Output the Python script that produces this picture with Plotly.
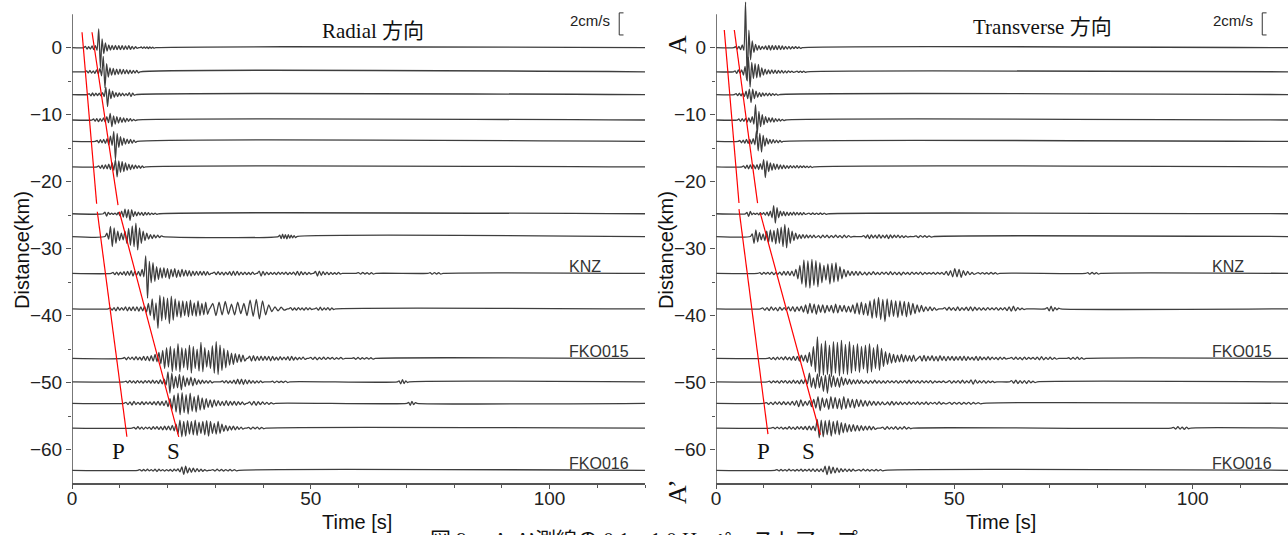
import plotly.graph_objects as go

# ---------------------------------------------------------------- data
T_END = 120.0
DISTANCES = [0.0, -3.6, -7.0, -10.8, -14.0, -17.8, -24.8, -28.2,
             -33.7, -39.0, -46.4, -49.9, -53.1, -56.8, -63.1]
STATION_NAMES = {8: "KNZ", 10: "FKO015", 14: "FKO016"}
STATION_LABEL_T = 104.0

# Each waveform is a list of wavelets: (start time [s], half period [s],
# successive peak amplitudes in km-offset units).  Quiet stretches are flat.
R00 = [(2.8, 0.35, [0.2, -0.2, 0.15, -0.2, 0.25, -0.3, 0.3, -0.4, 2.8, -3.0, 1.3, -0.9, 0.7, -0.5, 0.4, -0.35,
                    0.35, -0.3, 0.35, -0.3, 0.3, -0.3, 0.3, -0.3, 0.25, -0.25, 0.3, -0.25, 0.2, -0.2, 0.15, -0.1]),
       (14.5, 0.3, [0.1, -0.1, 0.12, -0.1, 0.1, -0.12, 0.1, -0.1, 0.08, -0.08])]
R01 = [(3.05, 0.35, [0.15, -0.15, 0.2, -0.2, 0.15, -0.25, 0.3, -0.3, 0.5, -0.6, 2.3, -2.4, 1.2, -0.8, 0.6, -0.5,
                     0.5, -0.45, 0.4, -0.4, 0.4, -0.35, 0.35, -0.3, 0.3, -0.3, 0.25, -0.25, 0.2, -0.2, 0.2, -0.15])]
R02 = [(3.6, 0.35, [0.15, -0.2, 0.25, -0.2, 0.2, -0.15, 0.2, -0.2, 0.3, -0.3, 1.1, -1.8, 0.8, -0.6, 0.5, -0.4,
                    0.3, -0.3, 0.25, -0.2, 0.2, -0.2, 0.15, -0.15, 0.3, -0.3, 0.2, -0.1])]
R03 = [(4.5, 0.35, [0.15, -0.15, 0.2, -0.25, 0.2, -0.2, 0.3, -0.3, 0.5, -0.4, 1.0, -1.0, 0.6, -0.6, 0.5, -0.45,
                    0.4, -0.35, 0.3, -0.3, 0.25, -0.2, 0.2, -0.15, 0.1, -0.1])]
R04 = [(5.25, 0.35, [0.15, -0.2, 0.25, -0.2, 0.3, -0.3, 0.4, -0.5, 0.8, -0.6, 1.5, -2.7, 1.2, -0.9, 0.7, -0.6,
                     0.5, -0.4, 0.35, -0.3, 0.3, -0.25, 0.2, -0.15])]
R05 = [(5.6, 0.35, [0.15, -0.2, 0.25, -0.3, 0.3, -0.3, 0.4, -0.4, 0.6, -0.5, 1.1, -1.5, 0.9, -0.8, 0.8, -0.7,
                    0.6, -0.5, 0.4, -0.4, 0.3, -0.3, 0.25, -0.2, 0.2, -0.2, 0.15, -0.1])]
R06 = [(6.9, 0.35, [0.25, -0.35, 0.2, -0.1, 0.1, -0.1, 0.1, -0.15, 0.2, -0.3, 0.4, -0.5, 0.7, -0.6, 0.6, -1.0,
                    0.6, -0.4, 0.3, -0.3, 0.25, -0.2, 0.2, -0.25, 0.2, -0.15, 0.15, -0.15, 0.1, -0.1, 0.1, -0.1])]
R07 = [(7.3, 0.38, [0.5, -0.4, 1.5, -1.5, 1.3, -1.0, 0.8, -0.6, 0.5, -0.5, 0.8, -1.0, 1.2, -1.3, 1.6, -1.5,
                    2.0, -2.0, 1.3, -1.0, 0.8, -0.6, 0.5, -0.4, 0.3, -0.3, 0.25, -0.2, 0.2, -0.15, 0.1]),
       (43.5, 0.3, [0.2, -0.3, 0.35, -0.3, 0.3, -0.35, 0.3, -0.25, 0.2, -0.2, 0.15, -0.15])]
R08 = [(8.6, 0.38, [0.15, -0.2, 0.2, -0.25, 0.2, -0.2, 0.25, -0.3, 0.3, -0.3, 0.4, -0.4, 0.3, -0.3, 0.3, -0.4,
                    0.6, -0.5, 2.6, -3.7, 1.8, -1.4, 1.6, -1.2, 1.0, -0.9, 0.8, -0.7, 0.8, -0.6, 0.7, -0.8,
                    0.6, -0.5, 0.7, -0.6, 0.5, -0.5, 0.6, -0.4, 0.5, -0.4, 0.4, -0.4, 0.35, -0.3, 0.3, -0.3,
                    0.3, -0.25, 0.3, -0.3, 0.25, -0.2]),
       (29.8, 0.4, [0.2, -0.2, 0.25, -0.2, 0.2, -0.25, 0.2, -0.2, 0.25, -0.3, 0.35, -0.3, 0.3, -0.25, 0.2, -0.2,
                    0.2, -0.2, 0.15, -0.2, 0.2, -0.15]),
       (39.2, 0.4, [0.35, -0.4, 0.3, -0.25, 0.2, -0.2, 0.15, -0.15, 0.15, -0.2, 0.2, -0.15, 0.15, -0.15, 0.2, -0.2,
                    0.15, -0.15, 0.2, -0.25, 0.3, -0.3, 0.25, -0.2, 0.2, -0.2, 0.15, -0.1]),
       (51.0, 0.4, [0.3, -0.4, 0.35, -0.3, 0.25, -0.2, 0.2, -0.2, 0.15, -0.15, 0.1, -0.15, 0.15, -0.1]),
       (60.0, 0.45, [0.12, -0.12, 0.15, -0.1, 0.1, -0.12, 0.1, -0.1]),
       (75.0, 0.45, [0.1, -0.12, 0.12, -0.1, 0.1, -0.1])]
R09 = [(8.0, 0.4, [0.15, -0.2, 0.2, -0.3, 0.25, -0.2, 0.2, -0.2, 0.3, -0.3, 0.25, -0.25, 0.3, -0.3, 0.3, -0.35,
                   0.3, -0.3, 0.4, -0.5, 0.8, -1.0, 1.5, -1.7, 0.9, -2.9, 2.0, -1.8, 1.8, -1.6, 1.6, -2.2,
                   1.9, -1.7, 1.5, -1.2, 1.2, -1.3, 1.2, -1.0, 1.1, -1.2, 1.3, -1.0, 0.9, -1.1, 1.2, -1.0,
                   0.8, -0.9, 1.0, -0.8]),
       (29.5, 0.65, [0.8, -1.0, 1.0, -0.9, 1.1, -0.8, 0.7, -0.9, 1.0, -0.7, 0.8, -1.0, 1.3, -1.1, 1.4, -1.5,
                     1.2, -0.9, 0.6, -0.4, 0.3, -0.3, 0.25, -0.2]),
       (45.8, 0.4, [0.2, -0.2, 0.15, -0.2, 0.2, -0.15, 0.15, -0.2, 0.2, -0.15, 0.15, -0.1]),
       (51.2, 0.4, [0.15, -0.2, 0.25, -0.2, 0.15, -0.15, 0.2, -0.2, 0.15, -0.1])]
R10 = [(11.0, 0.4, [0.15, -0.2, 0.2, -0.15, 0.2, -0.2, 0.25, -0.2, 0.2, -0.25, 0.3, -0.3, 0.3, -0.35, 0.4, -0.4,
                    0.6, -0.5, 0.9, -0.8, 1.2, -1.5, 1.6, -1.3, 1.8, -2.0, 1.5, -1.8, 2.2, -2.0, 1.6, -1.4,
                    1.5, -1.7, 2.0, -2.2, 1.8, -1.5, 1.4, -1.9, 2.4, -2.0, 1.6, -1.3, 1.2, -1.5, 1.9, -2.2,
                    2.5, -2.4, 2.0, -1.8, 1.5, -1.4, 1.2, -1.0, 0.8, -0.9, 0.7, -0.6, 0.6, -0.5, 0.5, -0.4]),
       (37.2, 0.4, [0.35, -0.4, 0.4, -0.35, 0.3, -0.3, 0.35, -0.3, 0.3, -0.25, 0.3, -0.35, 0.3, -0.25, 0.2, -0.25,
                    0.25, -0.2, 0.2, -0.2, 0.25, -0.3, 0.3, -0.25, 0.2, -0.2, 0.15, -0.15, 0.2, -0.15]),
       (50.0, 0.45, [0.15, -0.15, 0.2, -0.2, 0.15, -0.15, 0.2, -0.15, 0.15, -0.1, 0.15, -0.15, 0.1, -0.1, 0.15, -0.1]),
       (59.0, 0.45, [0.1, -0.12, 0.15, -0.12, 0.1, -0.1, 0.12, -0.1, 0.1, -0.1])]
R11 = [(11.3, 0.4, [0.1, -0.15, 0.2, -0.15, 0.15, -0.2, 0.2, -0.15, 0.15, -0.2, 0.2, -0.15, 0.2, -0.2, 0.25, -0.2,
                    0.2, -0.25, 0.3, -0.3, 0.4, -0.5, 1.5, -1.7, 1.3, -1.0, 0.8, -0.9, 1.1, -1.2, 0.9, -0.7,
                    0.6, -0.5, 0.7, -0.6, 0.5, -0.4, 0.3, -0.3, 0.25, -0.2, 0.2, -0.2, 0.2, -0.15]),
       (31.5, 0.4, [0.15, -0.15, 0.2, -0.2, 0.15, -0.2, 0.25, -0.3, 0.4, -0.35, 0.4, -0.4, 0.35, -0.3, 0.25, -0.2,
                    0.2, -0.2, 0.15, -0.15, 0.15, -0.1]),
       (42.0, 0.45, [0.1, -0.12, 0.12, -0.1, 0.1, -0.1, 0.12, -0.1]),
       (68.5, 0.35, [0.15, -0.3, 0.35, -0.25, 0.15, -0.1])]
R12 = [(11.3, 0.42, [0.15, -0.2, 0.2, -0.25, 0.3, -0.2, 0.15, -0.2, 0.25, -0.2, 0.2, -0.15, 0.2, -0.2, 0.25, -0.25,
                     0.3, -0.3, 0.3, -0.35, 0.4, -0.5, 0.7, -0.9, 1.2, -1.3, 1.5, -1.7, 1.6, -1.4, 1.3, -1.6,
                     1.5, -1.2, 1.0, -1.3, 1.2, -1.0, 0.8, -0.9, 0.7, -0.6, 0.5, -0.6, 0.5, -0.4, 0.4, -0.35,
                     0.3, -0.35, 0.4, -0.35, 0.3, -0.25, 0.3, -0.3, 0.25, -0.2, 0.2, -0.2]),
       (37.2, 0.45, [0.2, -0.25, 0.3, -0.3, 0.25, -0.2, 0.2, -0.15, 0.15, -0.15, 0.1, -0.1]),
       (70.5, 0.35, [0.15, -0.3, 0.3, -0.2, 0.1])]
R13 = [(13.0, 0.4, [0.1, -0.15, 0.2, -0.15, 0.15, -0.2, 0.15, -0.1, 0.15, -0.2, 0.2, -0.15, 0.2, -0.2, 0.2, -0.25,
                    0.3, -0.25, 0.3, -0.3, 0.4, -0.4, 0.6, -0.9, 1.2, -1.3, 1.0, -1.2, 1.1, -0.9, 1.0, -1.0,
                    1.2, -1.1, 0.9, -0.8, 1.0, -1.0, 1.1, -1.2, 1.0, -0.8, 0.7, -0.9, 1.0, -0.8, 0.6, -0.5,
                    0.4, -0.4, 0.3, -0.3, 0.3, -0.25, 0.2, -0.2, 0.15, -0.15]),
       (37.0, 0.45, [0.1, -0.15, 0.15, -0.1, 0.15, -0.15, 0.1, -0.1])]
R14 = [(14.2, 0.4, [0.1, -0.1, 0.12, -0.1, 0.15, -0.1, 0.1, -0.12, 0.15, -0.2, 0.15, -0.1, 0.1, -0.12, 0.1, -0.1,
                    0.12, -0.15, 0.15, -0.1, 0.2, -0.25, 0.5, -0.6, 0.6, -0.4, 0.35, -0.3, 0.3, -0.25, 0.25, -0.2,
                    0.15, -0.15, 0.1, -0.1]),
       (29.5, 0.45, [0.1, -0.12, 0.15, -0.1, 0.12, -0.12, 0.1, -0.1, 0.12, -0.1, 0.1, -0.1])]

T00 = [(4.1, 0.35, [0.15, -0.2, 0.2, -0.3, 0.4, -0.4, 6.8, -5.0, 2.6, -1.8, 1.0, -0.7, 0.5, -0.4, 0.3, -0.3,
                    0.2, -0.2, 0.25, -0.3, 0.35, -0.35, 0.35, -0.3, 0.3, -0.3, 0.3, -0.3, 0.25, -0.25, 0.2, -0.2,
                    0.2, -0.2, 0.15, -0.15, 0.15, -0.1, 0.1, -0.1])]
T01 = [(4.0, 0.35, [0.15, -0.25, 0.3, -0.2, 0.3, -0.5, 0.8, -1.2, 2.2, -2.3, 1.4, -1.0, 1.2, -0.9, 1.1, -0.8,
                    0.6, -0.5, 0.4, -0.35, 0.3, -0.3, 0.3, -0.25, 0.25, -0.25, 0.2, -0.2, 0.2, -0.2, 0.15, -0.15,
                    0.15, -0.1, 0.1, -0.1]),
       (17.0, 0.35, [0.1, -0.1, 0.1, -0.1, 0.1, -0.08])]
T02 = [(4.2, 0.35, [0.15, -0.15, 0.2, -0.2, 0.25, -0.3, 0.5, -0.6, 0.8, -1.2, 0.8, -0.6, 0.5, -0.4, 0.3, -0.3,
                    0.25, -0.2, 0.2, -0.2, 0.2, -0.15, 0.15, -0.1, 0.1, -0.1])]
T03 = [(4.8, 0.35, [0.15, -0.2, 0.2, -0.2, 0.25, -0.3, 0.3, -0.35, 0.5, -0.6, 2.3, -2.1, 1.3, -1.0, 0.8, -0.7,
                    0.5, -0.4, 0.35, -0.3, 0.3, -0.3, 0.2, -0.2, 0.15, -0.15, 0.1, -0.1])]
T04 = [(5.0, 0.35, [0.15, -0.2, 0.2, -0.25, 0.3, -0.3, 0.3, -0.35, 0.4, -0.5, 1.6, -1.4, 1.2, -1.6, 0.9, -0.7,
                    0.5, -0.4, 0.3, -0.3, 0.25, -0.2, 0.2, -0.2, 0.15, -0.1])]
T05 = [(5.8, 0.35, [0.15, -0.2, 0.25, -0.3, 0.3, -0.25, 0.3, -0.3, 0.35, -0.4, 0.5, -0.4, 1.1, -1.6, 0.9, -0.7,
                    0.6, -0.5, 0.5, -0.4, 0.4, -0.35, 0.3, -0.3, 0.25, -0.25, 0.2, -0.2, 0.2, -0.15, 0.15, -0.15,
                    0.2, -0.15, 0.15, -0.1, 0.15, -0.1, 0.1, -0.1, 0.1, -0.1])]
T06 = [(6.5, 0.35, [0.2, -0.4, 0.35, -0.15, 0.1, -0.1, 0.1, -0.15, 0.15, -0.1, 0.15, -0.2, 0.25, -0.3, 0.4, -0.6,
                    1.2, -1.4, 0.9, -0.6, 0.4, -0.3, 0.3, -0.3, 0.25, -0.25, 0.2, -0.2, 0.25, -0.2, 0.2, -0.15,
                    0.15, -0.15, 0.15, -0.1]),
       (19.5, 0.4, [0.1, -0.1, 0.12, -0.1, 0.1, -0.1, 0.12, -0.1, 0.1, -0.08])]
T07 = [(7.6, 0.38, [0.4, -1.0, 1.0, -0.8, 0.6, -0.5, 0.4, -0.6, 0.8, -0.9, 1.0, -0.8, 0.9, -1.1, 1.2, -1.0,
                    1.4, -1.5, 1.8, -1.7, 1.3, -1.0, 0.8, -0.6, 0.5, -0.4, 0.3, -0.3, 0.3, -0.25, 0.25, -0.2,
                    0.2, -0.2, 0.2, -0.15]),
       (21.5, 0.45, [0.15, -0.2, 0.2, -0.15, 0.2, -0.2, 0.15, -0.15, 0.2, -0.15, 0.15, -0.2, 0.2, -0.15, 0.15, -0.1]),
       (31.0, 0.4, [0.15, -0.2, 0.25, -0.3, 0.25, -0.2, 0.2, -0.25, 0.3, -0.25, 0.2, -0.2, 0.25, -0.3, 0.25, -0.2,
                    0.2, -0.15, 0.2, -0.2, 0.15, -0.15, 0.1, -0.1]),
       (42.0, 0.45, [0.1, -0.15, 0.15, -0.1, 0.12, -0.12, 0.1, -0.1])]
T08 = [(9.2, 0.42, [0.1, -0.15, 0.15, -0.1, 0.15, -0.15, 0.2, -0.2, 0.15, -0.15, 0.2, -0.25, 0.3, -0.25, 0.3, -0.3,
                    0.35, -0.4, 0.6, -0.8, 1.2, -1.6, 2.0, -2.1, 1.9, -2.2, 2.1, -1.8, 1.9, -2.0, 1.6, -1.4,
                    1.2, -1.0, 1.4, -1.6, 1.5, -1.3, 1.6, -1.2, 1.0, -0.8, 0.6, -0.5, 0.4, -0.35, 0.3, -0.3,
                    0.3, -0.3, 0.25, -0.2]),
       (31.2, 0.45, [0.2, -0.25, 0.2, -0.2, 0.25, -0.2, 0.15, -0.2, 0.2, -0.15, 0.2, -0.2, 0.25, -0.2, 0.2, -0.2,
                     0.2, -0.25, 0.2, -0.15, 0.15, -0.2, 0.2, -0.15, 0.15, -0.15, 0.2, -0.2, 0.15, -0.1, 0.1, -0.1,
                     0.15, -0.15, 0.15, -0.1, 0.15, -0.2, 0.3, -0.3, 0.4, -0.5, 0.7, -0.5, 0.6, -0.6, 0.4, -0.3,
                     0.3, -0.2, 0.15, -0.15]),
       (55.0, 0.45, [0.1, -0.1, 0.12, -0.1, 0.1, -0.12, 0.15, -0.1, 0.1, -0.1]),
       (78.0, 0.45, [0.1, -0.12, 0.15, -0.1, 0.1, -0.1])]
T09 = [(9.8, 0.45, [0.15, -0.2, 0.2, -0.25, 0.3, -0.2, 0.2, -0.3, 0.25, -0.2, 0.2, -0.2, 0.3, -0.3, 0.35, -0.4,
                    0.3, -0.3, 0.4, -0.5, 0.6, -0.7, 0.8, -0.6, 0.7, -0.8, 0.6, -0.5, 0.6, -0.6, 0.5, -0.4,
                    0.5, -0.6, 0.7, -0.6, 0.5, -0.4, 0.5, -0.5, 0.4, -0.5, 0.6, -0.7, 0.9, -0.8, 1.0, -0.9,
                    0.8, -1.0, 1.2, -1.4, 1.5, -1.3, 1.7, -1.6, 1.4, -1.9, 1.5, -1.2, 1.3, -1.1, 1.2, -1.3,
                    1.2, -1.0, 1.1, -1.2, 1.0, -0.9, 0.8, -0.7, 0.6, -0.5, 0.5, -0.4, 0.3, -0.3, 0.3, -0.25,
                    0.2, -0.2]),
       (48.0, 0.45, [0.2, -0.2, 0.25, -0.2, 0.2, -0.25, 0.3, -0.25, 0.2, -0.2, 0.25, -0.25, 0.3, -0.3, 0.25, -0.2,
                     0.2, -0.2, 0.15, -0.2, 0.2, -0.15, 0.15, -0.15, 0.2, -0.2, 0.15, -0.15, 0.2, -0.25, 0.3, -0.35,
                     0.4, -0.3, 0.2, -0.15, 0.1, -0.1]),
       (69.5, 0.4, [0.2, -0.3, 0.4, -0.35, 0.2, -0.15, 0.1])]
T10 = [(11.2, 0.42, [0.1, -0.15, 0.15, -0.2, 0.2, -0.15, 0.2, -0.2, 0.25, -0.2, 0.2, -0.25, 0.3, -0.3, 0.3, -0.4,
                     0.5, -0.4, 0.5, -0.6, 0.9, -1.2, 1.8, -2.0, 3.2, -2.7, 2.2, -2.5, 2.6, -2.4, 2.0, -2.7,
                     2.5, -2.2, 2.4, -2.6, 2.7, -2.3, 2.1, -2.4, 2.5, -2.2, 2.0, -1.9, 2.2, -2.1, 1.8, -1.6,
                     2.0, -2.2, 2.2, -2.0, 1.6, -1.5, 2.1, -1.8, 1.5, -1.2, 1.0, -0.9, 0.8, -0.7, 0.6, -0.6,
                     0.5, -0.5, 0.6, -0.5, 0.5, -0.4, 0.4, -0.45, 0.5, -0.4]),
       (42.8, 0.42, [0.35, -0.4, 0.45, -0.4, 0.35, -0.3, 0.4, -0.35, 0.3, -0.4, 0.4, -0.3, 0.3, -0.35, 0.3, -0.25,
                     0.3, -0.3, 0.25, -0.25, 0.3, -0.3, 0.35, -0.3, 0.25, -0.2, 0.2, -0.25, 0.3, -0.3, 0.25, -0.2,
                     0.2, -0.2, 0.25, -0.2, 0.2, -0.15, 0.15, -0.2, 0.2, -0.15, 0.15, -0.1]),
       (62.0, 0.45, [0.15, -0.15, 0.2, -0.15, 0.15, -0.2, 0.2, -0.15, 0.15, -0.1, 0.15, -0.15, 0.2, -0.2, 0.25, -0.2,
                     0.15, -0.15, 0.2, -0.15, 0.1, -0.1]),
       (74.0, 0.45, [0.1, -0.12, 0.15, -0.12, 0.2, -0.15, 0.1, -0.1])]
T11 = [(11.2, 0.42, [0.1, -0.15, 0.15, -0.1, 0.15, -0.2, 0.2, -0.15, 0.2, -0.2, 0.15, -0.2, 0.25, -0.2, 0.2, -0.3,
                     0.3, -0.25, 0.4, -0.3, 1.3, -0.8, 0.6, -1.0, 1.2, -0.9, 0.8, -1.4, 1.0, -1.7, 1.1, -0.8,
                     0.9, -0.7, 0.6, -0.8, 0.7, -0.5, 0.5, -0.4, 0.4, -0.35, 0.3, -0.3, 0.3, -0.25, 0.25, -0.2]),
       (31.5, 0.45, [0.2, -0.25, 0.2, -0.2, 0.25, -0.2, 0.2, -0.2, 0.15, -0.2, 0.2, -0.15, 0.15, -0.15, 0.2, -0.2,
                     0.15, -0.15, 0.2, -0.2, 0.25, -0.2, 0.2, -0.15, 0.15, -0.2, 0.2, -0.15, 0.15, -0.15, 0.2, -0.2,
                     0.15, -0.1, 0.1, -0.1, 0.15, -0.1]),
       (49.0, 0.45, [0.2, -0.2, 0.15, -0.15, 0.2, -0.2, 0.25, -0.2, 0.15, -0.15, 0.3, -0.35, 0.3, -0.2, 0.15, -0.15,
                     0.2, -0.2, 0.15, -0.1, 0.1, -0.1]),
       (62.0, 0.45, [0.2, -0.2, 0.25, -0.25, 0.2, -0.2, 0.2, -0.25, 0.2, -0.15, 0.1, -0.1])]
T12 = [(10.6, 0.45, [0.1, -0.15, 0.15, -0.2, 0.2, -0.15, 0.2, -0.2, 0.25, -0.2, 0.2, -0.25, 0.3, -0.3, 0.4, -0.5,
                     0.5, -0.4, 0.3, -0.3, 0.4, -0.5, 0.6, -0.7, 1.0, -1.1, 0.8, -0.6, 0.7, -0.9, 1.0, -0.8,
                     0.9, -0.8, 0.7, -0.9, 1.0, -0.8, 0.7, -0.6, 0.6, -0.7, 0.6, -0.5, 0.5, -0.45, 0.4, -0.4,
                     0.35, -0.3, 0.3, -0.3, 0.25, -0.25, 0.2, -0.2]),
       (36.0, 0.45, [0.2, -0.25, 0.3, -0.25, 0.2, -0.2, 0.2, -0.2, 0.15, -0.2, 0.2, -0.15, 0.15, -0.15, 0.2, -0.2,
                     0.15, -0.15, 0.2, -0.2, 0.15, -0.1, 0.15, -0.15, 0.2, -0.15, 0.1, -0.1]),
       (49.0, 0.5, [0.15, -0.15, 0.15, -0.12, 0.15, -0.15, 0.12, -0.12, 0.15, -0.15, 0.12, -0.1, 0.1, -0.1])]
T13 = [(12.0, 0.42, [0.1, -0.1, 0.15, -0.1, 0.15, -0.15, 0.1, -0.15, 0.2, -0.15, 0.15, -0.2, 0.2, -0.15, 0.2, -0.2,
                     0.25, -0.25, 0.3, -0.3, 0.3, -0.4, 1.3, -1.45, 1.2, -1.3, 1.1, -1.0, 1.2, -1.2, 1.0, -0.9,
                     1.1, -1.0, 0.8, -0.7, 0.7, -0.6, 0.5, -0.5, 0.5, -0.45, 0.4, -0.4, 0.35, -0.35, 0.3, -0.3,
                     0.3, -0.25, 0.2, -0.2]),
       (35.0, 0.45, [0.15, -0.2, 0.2, -0.15, 0.15, -0.15, 0.2, -0.2, 0.15, -0.15, 0.2, -0.15, 0.1, -0.1]),
       (96.0, 0.45, [0.1, -0.15, 0.2, -0.15, 0.15, -0.2, 0.15, -0.1])]
T14 = [(12.8, 0.42, [0.1, -0.1, 0.12, -0.1, 0.1, -0.12, 0.15, -0.1, 0.1, -0.12, 0.12, -0.1, 0.15, -0.15, 0.12, -0.1,
                     0.15, -0.15, 0.2, -0.2, 0.15, -0.2, 0.2, -0.25, 0.6, -0.65, 0.6, -0.5, 0.45, -0.4, 0.35, -0.3,
                     0.25, -0.2, 0.2, -0.2, 0.15, -0.15, 0.15, -0.1]),
       (30.0, 0.45, [0.1, -0.12, 0.15, -0.1, 0.12, -0.12, 0.1, -0.1, 0.12, -0.1, 0.1, -0.1])]

RADIAL = [R00, R01, R02, R03, R04, R05, R06, R07, R08, R09, R10, R11, R12, R13, R14]
TRANSVERSE = [T00, T01, T02, T03, T04, T05, T06, T07, T08, T09, T10, T11, T12, T13, T14]

# Travel-time picks (time [s], distance [km]); each line is drawn in two pieces
P_RADIAL = [[(2.1, 2.3), (5.16, -23.3)], [(5.3, -24.5), (11.5, -58.1)]]
S_RADIAL = [[(4.19, 2.3), (9.64, -23.5)], [(9.92, -24.5), (22.35, -58.1)]]
P_TRANSVERSE = [[(1.74, 2.64), (4.82, -23.2)], [(4.82, -24.1), (10.9, -57.7)]]
S_TRANSVERSE = [[(3.84, 2.64), (8.72, -23.2)], [(9.29, -24.7), (21.9, -57.8)]]

# ---------------------------------------------------------------- helpers
TRACE_COLOR = "#3e3e3e"
AXIS_COLOR = "#555555"
SANS = "Liberation Sans, Arial, sans-serif"
SERIF = "Liberation Serif, Times New Roman, Noto Sans CJK JP, serif"


def waveform(wavelets, base):
    xs, ys = [0.0], [base]
    for t0, hp, amps in wavelets:
        if t0 - hp > xs[-1]:
            xs.append(t0 - hp)
            ys.append(base)
        for i, a in enumerate(amps):
            xs.append(t0 + i * hp)
            ys.append(base + a)
        xs.append(t0 + len(amps) * hp)
        ys.append(base)
    xs.append(T_END)
    ys.append(base)
    return xs, ys


def pick_line(segments):
    xs, ys = [], []
    for seg in segments:
        for t, d in seg:
            xs.append(t)
            ys.append(d)
        xs.append(None)
        ys.append(None)
    return xs, ys


fig = go.Figure()

panels = [("x", "y", RADIAL, P_RADIAL, S_RADIAL),
          ("x2", "y2", TRANSVERSE, P_TRANSVERSE, S_TRANSVERSE)]

for xa, ya, traces, p_pick, s_pick in panels:
    for wavelets, base in zip(traces, DISTANCES):
        xs, ys = waveform(wavelets, base)
        fig.add_trace(go.Scatter(x=xs, y=ys, mode="lines", xaxis=xa, yaxis=ya,
                                 line=dict(color=TRACE_COLOR, width=1.3, shape="spline", smoothing=0.6),
                                 hoverinfo="skip", showlegend=False))
    for pick in (p_pick, s_pick):
        xs, ys = pick_line(pick)
        fig.add_trace(go.Scatter(x=xs, y=ys, mode="lines", xaxis=xa, yaxis=ya,
                                 line=dict(color="#ff0000", width=1.2),
                                 hoverinfo="skip", showlegend=False))

# ---------------------------------------------------------------- axes
W, H = 1288, 535
M_L, M_B = 72, 52
PLOT_W = W - M_L
LEFT_DOMAIN = [0.0, 573 / PLOT_W]
RIGHT_DOMAIN = [644 / PLOT_W, 1.0]
Y_RANGE = [-65, 7.12]

xaxis_common = dict(range=[0, T_END], tickvals=[0, 50, 100], ticks="outside", ticklen=4,
                    tickcolor=AXIS_COLOR, tickwidth=1.2, showline=True, linecolor=AXIS_COLOR,
                    linewidth=1.6, showgrid=False, zeroline=False, ticklabelstandoff=-7,
                    tickfont=dict(family=SANS, size=19, color="#222"),
                    minor=dict(dtick=10, tick0=0, ticks="outside", ticklen=3,
                               tickcolor=AXIS_COLOR, showgrid=False))
yaxis_common = dict(range=Y_RANGE, tickvals=[0, -10, -20, -30, -40, -50, -60], ticks="outside",
                    ticklen=5, tickcolor=AXIS_COLOR, tickwidth=1.2, showline=False,
                    showgrid=False, zeroline=False,
                    tickfont=dict(family=SANS, size=19, color="#222"),
                    minor=dict(tickvals=[-55, -45, -35, -25, -15, -5], ticks="outside", ticklen=3,
                               tickcolor=AXIS_COLOR, showgrid=False))

fig.update_layout(
    width=W, height=H,
    margin=dict(l=M_L, r=0, t=0, b=M_B),
    paper_bgcolor="white", plot_bgcolor="white",
    xaxis=dict(domain=LEFT_DOMAIN, anchor="y", **xaxis_common),
    yaxis=dict(domain=[0, 1], anchor="x", **yaxis_common),
    xaxis2=dict(domain=RIGHT_DOMAIN, anchor="y2", **xaxis_common),
    yaxis2=dict(domain=[0, 1], anchor="x2", **yaxis_common),
)

shapes = []
for xa, ya in (("x", "y"), ("x2", "y2")):
    # vertical axis line, ending at the top of the time-distance frame
    shapes.append(dict(type="line", xref=xa, yref=ya, x0=0, x1=0, y0=-65, y1=5,
                       line=dict(color=AXIS_COLOR, width=1.6)))
    # 2 cm/s amplitude scale bracket
    for x0, y0, x1, y1 in ((114.6, 5.2, 114.6, 1.9), (114.6, 5.2, 115.5, 5.2), (114.6, 1.9, 115.5, 1.9)):
        shapes.append(dict(type="line", xref=xa, yref=ya, x0=x0, x1=x1, y0=y0, y1=y1,
                           line=dict(color="#333", width=1)))
fig.update_layout(shapes=shapes)

ann = []
for xa, ya, title, title_x, title_y, p_x, s_x in (
        ("x", "y", "Radial 方向", 63.0, 2.5, 9.7, 21.2),
        ("x2", "y2", "Transverse 方向", 68.4, 3.1, 9.9, 19.3)):
    ann.append(dict(xref=xa, yref=ya, x=title_x, y=title_y, text=title, showarrow=False,
                    xanchor="center", yanchor="middle",
                    font=dict(family=SERIF, size=21, color="#111")))
    ann.append(dict(xref=xa, yref=ya, x=108.5, y=4.1, text="2cm/s", showarrow=False,
                    xanchor="center", yanchor="middle",
                    font=dict(family=SANS, size=15, color="#222")))
    ann.append(dict(xref=xa, yref=ya, x=p_x, y=-60.3, text="P", showarrow=False,
                    xanchor="center", yanchor="middle",
                    font=dict(family=SERIF, size=23, color="#111")))
    ann.append(dict(xref=xa, yref=ya, x=s_x, y=-60.3, text="S", showarrow=False,
                    xanchor="center", yanchor="middle",
                    font=dict(family=SERIF, size=23, color="#111")))
    for idx, name in STATION_NAMES.items():
        ann.append(dict(xref=xa, yref=ya, x=STATION_LABEL_T, y=DISTANCES[idx], text=name,
                        showarrow=False, xanchor="left", yanchor="middle", yshift=7, xshift=-2,
                        font=dict(family=SANS, size=16, color="#333")))


def px_to_paper(px, py):
    plot_h = H - M_B
    return (px - M_L) / PLOT_W, (plot_h - py) / plot_h


for px, py, text, size, family, angle in (
        (22, 250, "Distance(km)", 20, SANS, -90),
        (666, 250, "Distance(km)", 20, SANS, -90),
        (357, 522, "Time [s]", 20, SANS, 0),
        (1001, 522, "Time [s]", 20, SANS, 0),
        (678, 45, "A", 26, SERIF, -90),
        (678, 492, "A’", 26, SERIF, -90)):
    x, y = px_to_paper(px, py)
    ann.append(dict(xref="paper", yref="paper", x=x, y=y, text=text, showarrow=False,
                    xanchor="center", yanchor="middle",
                    textangle=angle, font=dict(family=family, size=size, color="#111")))

cx, cy = px_to_paper(428, 526)
ann.append(dict(xref="paper", yref="paper", x=cx, y=cy, xanchor="left", yanchor="top",
                text="図 9　 A-A’測線の 0.1 – 1.0 Hz ペーストアップ", showarrow=False,
                font=dict(family=SERIF, size=21, color="#111")))

fig.update_layout(annotations=ann)
fig.write_html("out.html")
